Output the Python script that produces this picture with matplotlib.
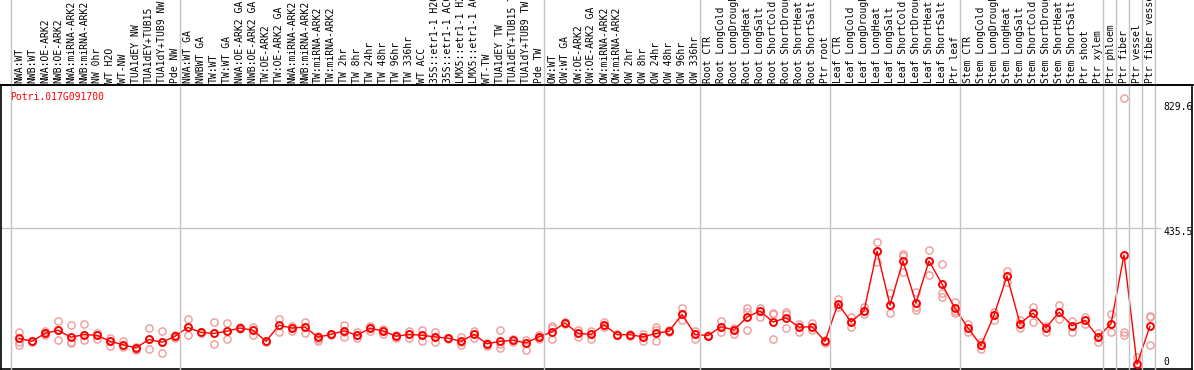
import matplotlib
matplotlib.use("Agg")
import matplotlib.pyplot as plt
import matplotlib.transforms as mtransforms
from matplotlib.lines import Line2D

gene = "Potri.017G091700"

labels = [
    "NWA:WT", "NWB:WT", "NWA:OE-ARK2", "NWB:OE-ARK2", "NWA:miRNA-ARK2", "NWB:miRNA-ARK2",
    "NW 0hr", "WT H2O", "WT-NW", "TUA1dEY NW", "TUA1dEY+TUB15", "TUA1dY+TUB9 NW", "Pde NW",
    "NWA:WT GA", "NWBWT GA", "TW:WT", "TW:WT GA", "NWA:OE-ARK2 GA", "NWB:OE-ARK2 GA",
    "TW:OE-ARK2", "TW:OE-ARK2 GA", "NWA:miRNA-ARK2", "NWB:miRNA-ARK2", "TW:miRNA-ARK2",
    "TW:miRNA-ARK2", "TW 2hr", "TW 8hr", "TW 24hr", "TW 48hr", "TW 96hr", "TW 336hr",
    "WT ACC", "35S::etr1-1 H2O", "35S::etr1-1 ACC", "LMX5::etr1-1 H2O", "LMX5::etr1-1 ACC",
    "WT-TW", "TUA1dEY TW", "TUA1dEY+TUB15 TW", "TUA1dY+TUB9 TW", "Pde TW",
    "OW:WT", "OW:WT GA", "OW:OE-ARK2", "OW:OE-ARK2 GA", "OW:miRNA-ARK2", "OW:miRNA-ARK2",
    "OW 2hr", "OW 8hr", "OW 24hr", "OW 48hr", "OW 96hr", "OW 336hr",
    "Root CTR", "Root LongCold", "Root LongDrought", "Root LongHeat", "Root LongSalt",
    "Root ShortCold", "Root ShortDrought", "Root ShortHeat", "Root ShortSalt", "Ptr root",
    "Leaf CTR", "Leaf LongCold", "Leaf LongDrought", "Leaf LongHeat", "Leaf LongSalt",
    "Leaf ShortCold", "Leaf ShortDrought", "Leaf ShortHeat", "Leaf ShortSalt", "Ptr leaf",
    "Stem CTR", "Stem LongCold", "Stem LongDrought", "Stem LongHeat", "Stem LongSalt",
    "Stem ShortCold", "Stem ShortDrought", "Stem ShortHeat", "Stem ShortSalt", "Ptr shoot",
    "Ptr xylem", "Ptr phloem", "Ptr fiber", "Ptr vessel", "Ptr fiber vessel",
]

means = [
    87.5, 78, 103, 113, 91, 99, 97, 78, 67, 57, 84, 75, 94,
    122, 106, 103, 110, 120, 113, 78, 129, 120, 123, 91, 100, 111, 97, 119, 111, 94,
    100, 97, 92, 88, 78, 100, 70, 78, 81, 73, 92,
    108, 136, 103, 100, 130, 99, 99, 92, 103, 110, 163, 100,
    96, 124, 114, 154, 174, 139, 152, 123, 124, 78,
    197, 139, 174, 363, 192, 332, 199, 332, 259, 182,
    120, 65, 160, 284, 134, 167, 121, 170, 127, 144,
    92, 133, 351, 6, 126,
]

rep1 = [
    108, 80, 110, 141, 130, 132, 105, 89, 80, 61, 120, 111, 98,
    148, 108, 138, 137, 123, 124, 80, 148, 126, 138, 95, 102, 129, 108, 126, 118, 98,
    111, 113, 106, 90, 93, 111, 73, 115, 86, 82, 98,
    125, 140, 114, 110, 139, 101, 102, 102, 122, 113, 182, 110,
    98, 142, 121, 182, 182, 169, 172, 132, 137, 82,
    213, 156, 185, 391, 230, 353, 235, 367, 323, 203,
    132, 77, 172, 301, 146, 185, 125, 193, 142, 156,
    105, 163, 846, 27, 158,
]
rep2 = [
    75, 78, 103, 113, 75, 97, 97, 78, 67, 55, 84, 75, 94,
    122, 106, 103, 110, 120, 113, 78, 129, 120, 122, 86, 100, 107, 97, 119, 111, 94,
    100, 97, 92, 88, 75, 100, 70, 70, 81, 72, 92,
    120, 136, 103, 100, 130, 99, 99, 92, 114, 110, 163, 100,
    96, 124, 114, 172, 174, 163, 164, 123, 124, 78,
    196, 139, 174, 363, 192, 348, 185, 332, 232, 175,
    120, 65, 160, 284, 134, 167, 121, 170, 127, 144,
    92, 133, 109, 0, 154,
]
rep3 = [
    66, 76, 97, 81, 72, 81, 84, 63, 60, 51, 53, 42, 88,
    99, 104, 70, 84, 116, 98, 76, 106, 111, 105, 80, 98, 91, 89, 112, 101, 88,
    88, 79, 75, 86, 65, 88, 64, 58, 76, 52, 86,
    85, 132, 91, 86, 122, 97, 96, 78, 78, 106, 146, 86,
    94, 106, 100, 114, 156, 85, 119, 108, 114, 74,
    185, 122, 163, 330, 168, 296, 177, 288, 217, 168,
    107, 54, 145, 266, 121, 139, 107, 149, 107, 133,
    75, 107, 98, 0, 65,
]

separators = [-0.65, 12.4, 40.4, 52.4, 62.4, 72.4, 83.4, 84.4, 85.4, 86.4, 87.4]
ytick_vals = [829.6, 435.5, 0]
ytick_text = ["829.6", "435.5", "0"]

W, H = 1194, 370
fig = plt.figure(figsize=(W / 100, H / 100), dpi=100)
ax = fig.add_axes([1 / W, 1 - 369 / H, (1192 - 1) / W, (369 - 85) / H])

x = list(range(len(labels)))
ax.set_xlim((1 - 19) / 13, (1192 - 19) / 13)
ax.set_ylim(-3 * 3.16, 281 * 3.16)
ax.set_xticks([])
ax.set_yticks([])
for s in ax.spines.values():
    s.set_color("black")
    s.set_linewidth(1.2)

grid_c = "#c4c4c4"
# horizontal grid at 435.5 only
ax.plot([ax.get_xlim()[0], 87.4 + 0.4], [435.5, 435.5], color=grid_c, lw=1.0, zorder=1)

# separators extending into label area
trans_sep = mtransforms.blended_transform_factory(ax.transData, fig.transFigure)
for sx in separators:
    fig.add_artist(Line2D([sx, sx], [1 - 369 / H, 1.0], transform=trans_sep,
                          color=grid_c, lw=1.0, zorder=0.5))

# top black line of label area separation
fig.add_artist(Line2D([0, 1], [1 - 85 / H, 1 - 85 / H], transform=fig.transFigure,
                      color="black", lw=1.2))

# replicates
for reps in (rep1, rep2, rep3):
    ax.plot(x, reps, linestyle="none", marker="o", markersize=5.2, markerfacecolor="none",
            markeredgecolor="#f09a9a", markeredgewidth=1.0, zorder=2, clip_on=False)

# means
ax.plot(x, means, color="#ff0000", lw=1.0, marker="o", markersize=5.0,
        markerfacecolor="none", markeredgecolor="#ff0000", markeredgewidth=1.4, zorder=3)

# category labels
trans_lab = mtransforms.blended_transform_factory(ax.transData, fig.transFigure)
for i, lab in enumerate(labels):
    fig.text(i, 1 - 83 / H, lab, transform=trans_lab, rotation=90, ha="center", va="bottom",
             family="DejaVu Sans Mono", fontsize=7, color="black")

# gene label
fig.text(10 / W, 1 - 97 / H, gene, ha="left", va="center", family="DejaVu Sans Mono",
         fontsize=7, color="#ff0000")

# y tick labels on the right
offs = [-3.4, -3.4, 4.0]
for v, t, o in zip(ytick_vals, ytick_text, offs):
    tr = ax.transData + mtransforms.ScaledTranslation(0, o * 0.72 / 72 * (72 / 100) * 100 / 72 * 72 / 72, fig.dpi_scale_trans)
    tr = mtransforms.blended_transform_factory(fig.transFigure, ax.transData) + \
        mtransforms.ScaledTranslation(0, o / 100, fig.dpi_scale_trans)
    fig.text(1163 / W, v, t, transform=tr, ha="left", va="center",
             family="DejaVu Sans Mono", fontsize=7, color="black")

fig.savefig("out.png", dpi=100)
